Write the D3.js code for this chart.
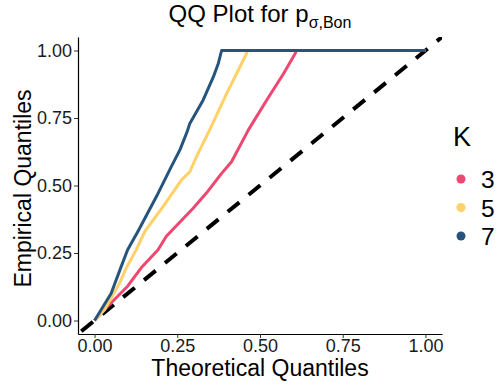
<!DOCTYPE html>
<html lang="en">
<head>
    <meta charset="UTF-8">
    <script src="https://d3js.org/d3.v7.min.js"></script>
    <style>
        body{ margin:0; background:#fff; }
        text{ font-family:"Liberation Sans", Arial, sans-serif; }
    </style>
    <title>QQ Plot</title>
</head>
<body>
    <div class="canvas"></div>
</body>
<script>
    // theoretical vs empirical quantiles per K
    const kLevels = ['3','5','7'];
    const kColors = ['#EF476F','#FFD166','#26547C'];
    const k3x = [0, 0.04, 0.1, 0.141, 0.192, 0.217, 0.298, 0.338, 0.384, 0.414, 0.465, 0.52, 0.571, 0.606, 0.61, 1];
    const k3y = [0, 0.053, 0.127, 0.195, 0.262, 0.312, 0.416, 0.472, 0.545, 0.588, 0.706, 0.816, 0.914, 0.988, 1, 1];
    const k5x = [0, 0.03, 0.076, 0.096, 0.126, 0.152, 0.207, 0.263, 0.288, 0.308, 0.318, 0.348, 0.399, 0.429, 0.459, 0.462, 1];
    const k5y = [0, 0.04, 0.139, 0.195, 0.262, 0.33, 0.422, 0.521, 0.551, 0.607, 0.632, 0.706, 0.84, 0.914, 0.988, 1, 1];
    const k7x = [0, 0.05, 0.079, 0.1, 0.131, 0.187, 0.232, 0.258, 0.28, 0.288, 0.328, 0.359, 0.374, 0.384, 1];
    const k7y = [0, 0.1, 0.195, 0.262, 0.33, 0.459, 0.57, 0.632, 0.7, 0.73, 0.816, 0.902, 0.952, 1, 1];
    const tickVals = [0, 0.25, 0.5, 0.75, 1];

    const width = 499, height = 387;
    const [ml, mt] = [78, 37];
    const graphWidth = 442 - ml;
    const graphHeight = 334 - mt;

    const svg = d3.select('.canvas').append('svg')
                  .attr('width', width).attr('height', height);
    const graph = svg.append('g').attr('transform', `translate(${ml},${mt})`);

    const x = d3.scaleLinear().domain([-0.05, 1.05]).range([0, graphWidth]);
    const y = d3.scaleLinear().domain([-0.05, 1.05]).range([graphHeight, 0]);

    svg.append('clipPath').attr('id', 'clip')
       .append('rect').attr('width', graphWidth).attr('height', graphHeight);

    // reference line y = x
    graph.append('line')
         .attr('clip-path', 'url(#clip)')
         .attr('x1', x(-0.04)).attr('y1', y(-0.04))
         .attr('x2', x(1.05)).attr('y2', y(1.05))
         .attr('stroke', '#000').attr('stroke-width', 4)
         .attr('stroke-dasharray', '15,12');

    const series = [
        {k: '3', xs: k3x, ys: k3y},
        {k: '5', xs: k5x, ys: k5y},
        {k: '7', xs: k7x, ys: k7y}
    ];
    const color = d3.scaleOrdinal().domain(kLevels).range(kColors);
    const line = d3.line().x(d => x(d[0])).y(d => y(d[1]));

    graph.selectAll('path.qq')
         .data(series)
         .enter().append('path')
         .attr('class', 'qq')
         .attr('fill', 'none')
         .attr('stroke', d => color(d.k))
         .attr('stroke-width', 3)
         .attr('stroke-linejoin', 'round')
         .attr('d', d => line(d.xs.map((v, i) => [v, d.ys[i]])));

    const xAxis = d3.axisBottom(x).tickValues(tickVals).tickFormat(d3.format('.2f')).tickSize(4).tickSizeOuter(0);
    const yAxis = d3.axisLeft(y).tickValues(tickVals).tickFormat(d3.format('.2f')).tickSize(4).tickSizeOuter(0);

    const xAxisG = graph.append('g').attr('transform', `translate(0,${graphHeight})`).call(xAxis);
    const yAxisG = graph.append('g').call(yAxis);
    [xAxisG, yAxisG].forEach(g => {
        g.attr('font-size', null).attr('font-family', null);
        g.select('.domain').attr('stroke', '#000').attr('stroke-width', 1.2);
        g.selectAll('.tick line').attr('stroke', '#333');
        g.selectAll('text').attr('fill', '#1a1a1a').style('font-size', '18px');
    });
    xAxisG.selectAll('text').attr('y', 5);
    yAxisG.selectAll('text').attr('x', -6);

    // titles
    const title = svg.append('text').attr('x', ml + graphWidth / 2).attr('y', 22)
                     .attr('text-anchor', 'middle').style('font-size', '24px').attr('fill', '#000');
    title.append('tspan').text('QQ Plot for p');
    title.append('tspan').attr('dy', 6).style('font-size', '16px').text('σ,Bon');

    svg.append('text').attr('x', ml + graphWidth / 2).attr('y', 376)
       .attr('text-anchor', 'middle').style('font-size', '23px').text('Theoretical Quantiles');
    svg.append('text').attr('transform', `translate(31,${mt + graphHeight / 2 + 3}) rotate(-90)`)
       .attr('text-anchor', 'middle').style('font-size', '23px').text('Empirical Quantiles');

    // legend
    const legend = svg.append('g').attr('transform', 'translate(453,0)');
    legend.append('text').attr('x', 0).attr('y', 146).style('font-size', '27px').text('K');
    const items = legend.selectAll('g.item').data(kLevels).enter().append('g')
                        .attr('transform', (d, i) => `translate(0,${179 + i * 28.5})`);
    items.append('circle').attr('cx', 8).attr('cy', 0).attr('r', 4.5).attr('fill', d => color(d));
    items.append('text').attr('x', 28).attr('y', 9).style('font-size', '24.5px').text(d => d);
</script>
</html>
